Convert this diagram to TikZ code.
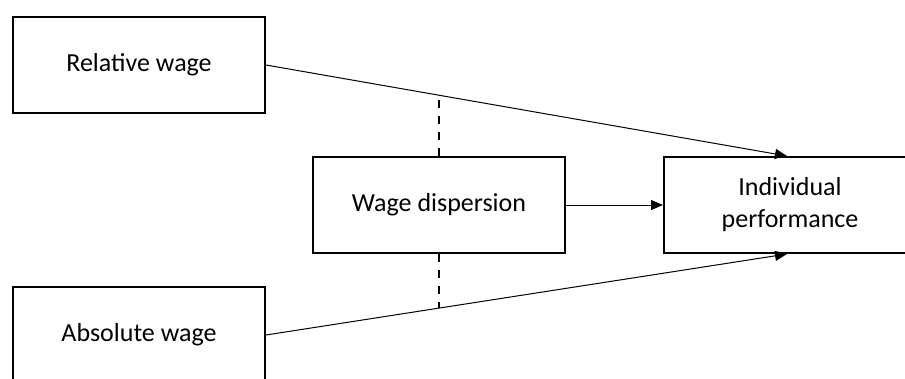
\documentclass[tikz,border=0pt]{standalone}
\usepackage{fontspec}
\setmainfont{Carlito}
\usepackage{tikz}
\usetikzlibrary{arrows.meta,positioning}

\begin{document}
\begin{tikzpicture}[x=1pt,y=-1pt,>={Triangle[length=12pt,width=10pt]},
  factor/.style={draw,line width=2pt,minimum width=252pt,minimum height=96pt,
    align=center,font=\fontsize{26}{32}\selectfont}]
\clip (0,0) rectangle (905,378);
\node (rel) [factor] at (139,65) {Relative wage};
\node (abs) [factor] at (139,335) {Absolute wage};
\node (disp) [factor] at (439,205) {Wage dispersion};
\node (perf) [factor] at (790,205) {Individual\\performance};
\draw[->,line width=1pt] (rel.east) -- coordinate[pos=0.33] (m1) ([xshift=-3pt]perf.north);
\draw[->,line width=1pt] (abs.east) -- coordinate[pos=0.33] (m2) ([xshift=-3pt]perf.south);
\draw[->,line width=1pt] (disp.east) -- (perf.west);
\draw[dashed,dash pattern=on 8pt off 8pt,line width=2pt] (disp.north) -- (disp.north |- m1);
\draw[dashed,dash pattern=on 8pt off 8pt,line width=2pt] (disp.south) -- (disp.south |- m2);
\end{tikzpicture}
\end{document}
